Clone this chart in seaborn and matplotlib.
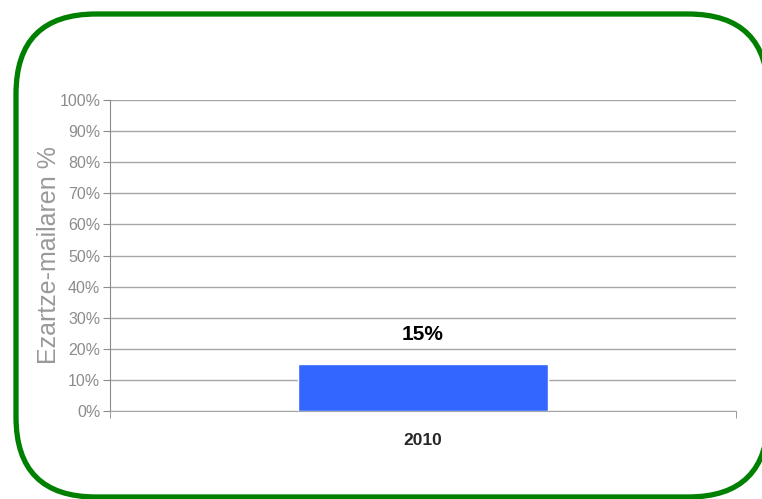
import matplotlib
matplotlib.use("Agg")
import matplotlib.pyplot as plt
import seaborn as sns
import pandas as pd
from matplotlib.patches import FancyBboxPatch
from matplotlib.ticker import FixedLocator

# data
years = ["2010"]
values = [15]
y_ticks = [0, 10, 20, 30, 40, 50, 60, 70, 80, 90, 100]
y_label = "Ezartze-mailaren %"

sns.set_style("white")
plt.rcParams["font.family"] = ["Liberation Sans", "DejaVu Sans"]

df = pd.DataFrame({"year": years, "value": values})

W, H = 762, 499
fig = plt.figure(figsize=(W / 100, H / 100), dpi=100)

# overlay in pixel units for the green rounded frame
# (filled white so Agg does not clip the curved path at the canvas edge)
bg = fig.add_axes([0, 0, 1, 1])
bg.set_xlim(0, W)
bg.set_ylim(H, 0)
bg.axis("off")
frame = FancyBboxPatch((16, 14), 752, 483,
                       boxstyle="round,pad=0,rounding_size=80",
                       facecolor="white", edgecolor="#008000", linewidth=3.8,
                       clip_on=False)
bg.add_patch(frame)

ax = fig.add_axes([110 / W, 1 - 411 / H, 626 / W, 311 / H])
ax.patch.set_alpha(0)

sns.barplot(data=df, x="year", y="value", color="#3366ff", width=0.4,
            saturation=1, ax=ax, zorder=3)

ax.set_xlim(-0.5, 0.5)
ax.set_ylim(0, 100)
ax.set_yticks(y_ticks)
ax.set_yticklabels([f"{t}%" for t in y_ticks], color="#8c8c8c", fontsize=11.5)
ax.yaxis.grid(True, color="#a6a6a6", linewidth=1, zorder=0)
ax.set_axisbelow(True)

for side in ["top", "right"]:
    ax.spines[side].set_visible(False)
ax.spines["left"].set_color("#8c8c8c")
ax.spines["bottom"].set_color("#a6a6a6")
ax.tick_params(axis="y", length=5, color="#8c8c8c", left=True, pad=2)
ax.tick_params(axis="x", length=0, pad=16)
ax.xaxis.set_minor_locator(FixedLocator([-0.5, 0.5]))
ax.tick_params(axis="x", which="minor", length=5, color="#8c8c8c", bottom=True)
for lbl in ax.get_xticklabels():
    lbl.set_fontweight("bold")
    lbl.set_fontsize(12.5)
ax.set_xlabel("")
ax.set_ylabel(y_label, color="#999999", fontsize=18, labelpad=-1)

for p, v in zip(ax.patches, values):
    ax.text(p.get_x() + p.get_width() / 2, v + 6.5, f"{v}%", ha="center",
            va="bottom", fontsize=15, fontweight="bold", color="black")

fig.savefig("out.png", dpi=100)
